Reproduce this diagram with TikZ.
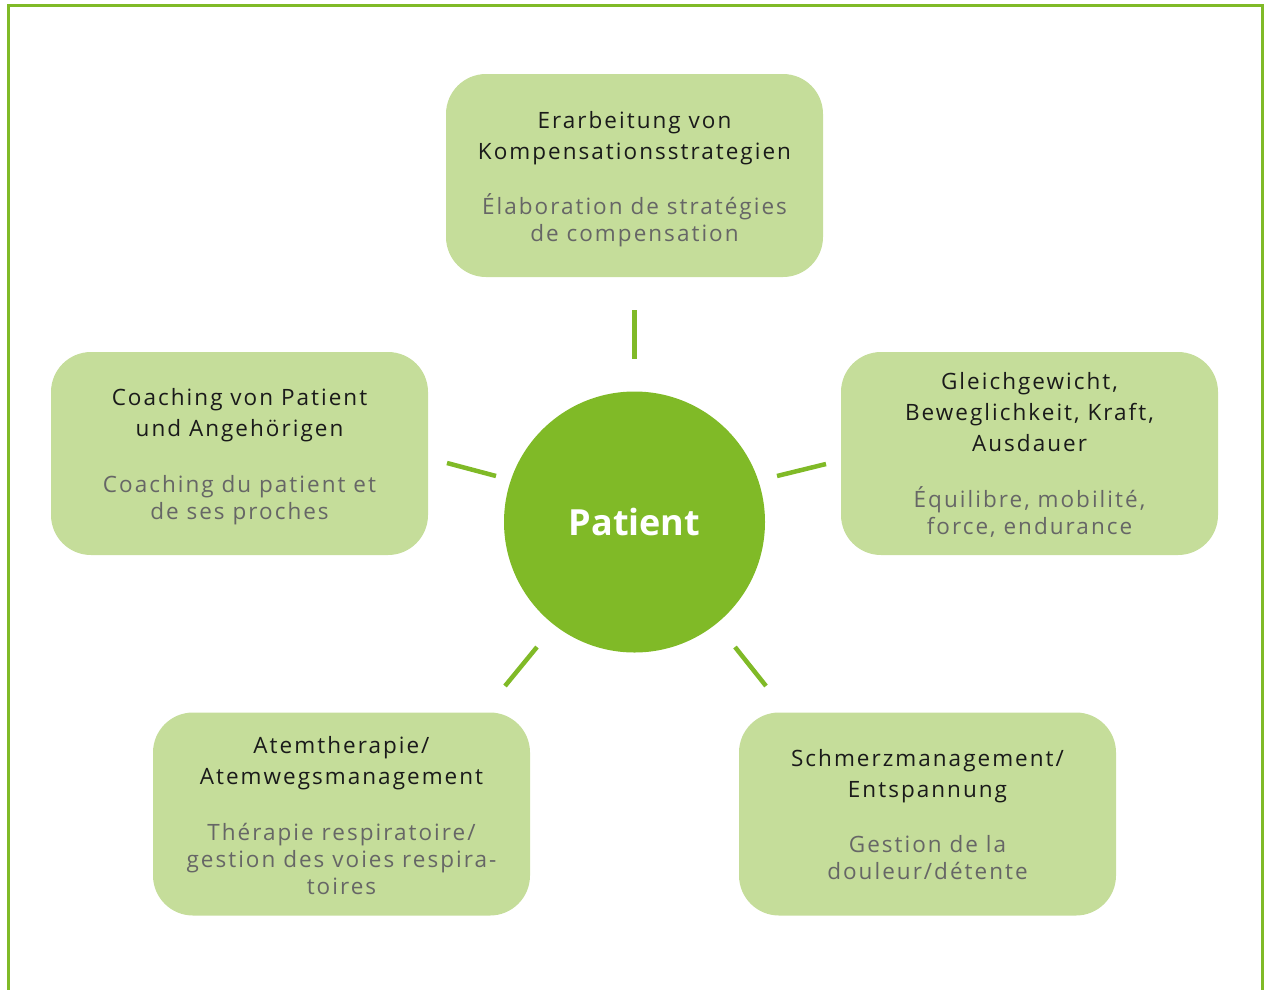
\documentclass[tikz,border=0pt]{standalone}
\usepackage{fontspec}
\setmainfont{Open Sans}
\newfontfamily\dfont[LetterSpace=9]{Open Sans}
\newfontfamily\pfont{Open Sans}
\definecolor{boxgreen}{HTML}{C5DD9A}
\definecolor{darkgreen}{HTML}{80BA27}
\definecolor{frgray}{HTML}{666666}
\definecolor{degray}{HTML}{1A1A1A}
\tikzset{
  box/.style={rectangle, rounded corners=40pt, fill=boxgreen, minimum width=377pt, minimum height=203pt, inner sep=0pt},
  center/.style={circle, fill=darkgreen, minimum size=261pt, inner sep=0pt, text=white, font=\pfont\bfseries\fontsize{36}{40}\selectfont},
  detext/.style={align=center, text=degray, font=\dfont\fontsize{22.5}{31}\selectfont, inner sep=0pt},
  frtext/.style={align=center, text=frgray, font=\dfont\fontsize{22.5}{27}\selectfont, inner sep=0pt},
  tick/.style={draw=darkgreen, line width=4.5pt},
  frame/.style={draw=darkgreen, line width=3pt}
}
\begin{document}
\begin{tikzpicture}[x=1pt,y=-1pt]
\useasboundingbox (0,0) rectangle (1264,989);
\draw[frame] (8,991) -- (8,5) -- (1262.5,5) -- (1262.5,991);

\node[center] (pat) at (634.5,522) {Patient};

\node[box] (top) at (634.5,175.5) {};
\node[box] (left) at (239.5,453.5) {};
\node[box] (right) at (1029.5,453.5) {};
\node[box] (bl) at (341.5,814) {};
\node[box] (br) at (927.5,814) {};

\node[detext] (topde) at (634.5,138.5) {Erarbeitung von\\Kompensationsstrategien};
\node[frtext] (topfr) at (634.5,220.5) {Élaboration de stratégies\\de compensation};

\node[detext] (leftde) at (239.5,415.5) {Coaching von Patient\\und Angehörigen};
\node[frtext] (leftfr) at (239.5,500) {Coaching du patient et\\de ses proches};

\node[detext] (rightde) at (1029.5,412) {Gleichgewicht,\\Beweglichkeit, Kraft,\\Ausdauer};
\node[frtext] (rightfr) at (1029.5,512) {Équilibre, mobilité,\\force, endurance};

\node[detext] (blde) at (341.5,763.5) {Atemtherapie/\\Atemwegsmanagement};
\node[frtext] (blfr) at (341.5,858.5) {Thérapie respiratoire/\\gestion des voies respira-\\toires};

\node[detext] (brde) at (927.5,776.5) {Schmerzmanagement/\\Entspannung};
\node[frtext] (brfr) at (927.5,858) {Gestion de la\\douleur/détente};

\coordinate (t1) at (634.5,310);
\coordinate (t2) at (634.5,359);
\coordinate (l1) at (447,463);
\coordinate (l2) at (496,476);
\coordinate (r1) at (777,476);
\coordinate (r2) at (826,464);
\coordinate (bl1) at (537,647);
\coordinate (bl2) at (505,686);
\coordinate (br1) at (735,647);
\coordinate (br2) at (766,686);
\draw[tick] (t1) -- (t2);
\draw[tick] (l1) -- (l2);
\draw[tick] (r1) -- (r2);
\draw[tick] (bl1) -- (bl2);
\draw[tick] (br1) -- (br2);
\end{tikzpicture}
\end{document}
